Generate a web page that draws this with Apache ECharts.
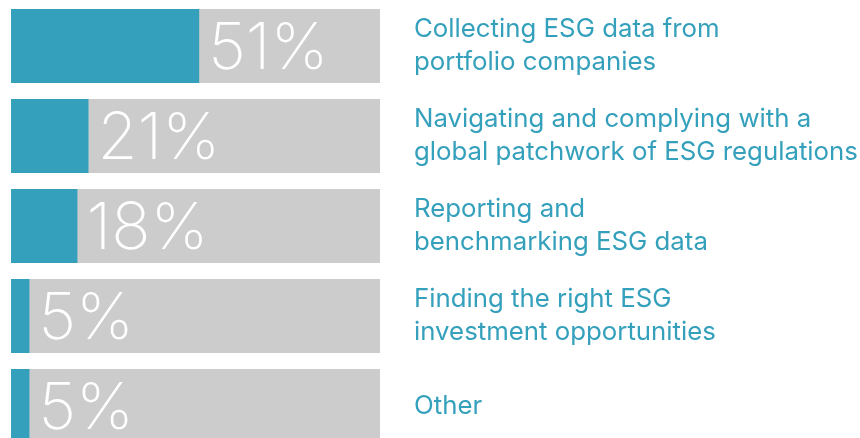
<!DOCTYPE html>
<html>
<head>
<meta charset="utf-8">
<script src="https://cdn.jsdelivr.net/npm/echarts@6/dist/echarts.min.js"></script>
<style>
  html, body { margin: 0; padding: 0; background: #fff; }
  #main { width: 860px; height: 438px; }
</style>
</head>
<body>
<div id="main"></div>
<script>
// ESG challenges - share of respondents
var categories = [
  'Collecting ESG data from\nportfolio companies',
  'Navigating and complying with a\nglobal patchwork of ESG regulations',
  'Reporting and\nbenchmarking ESG data',
  'Finding the right ESG\ninvestment opportunities',
  'Other'
]
var shares = [51, 21, 18, 5, 5]
var maxShare = 100

var teal = '#34a0bc'
var myChart = echarts.init(document.getElementById('main'))
myChart.setOption({
  animation: false,
  grid: {
    left: 11,
    width: 369,
    top: 1,
    height: 450,
    outerBoundsMode: 'none',
    containLabel: false
  },
  xAxis: {
    type: 'value',
    min: 0,
    max: maxShare,
    show: false
  },
  yAxis: {
    type: 'category',
    data: categories,
    inverse: true,
    position: 'right',
    axisLine: { show: false },
    axisTick: { show: false },
    axisLabel: {
      margin: 34,
      align: 'left',
      color: teal,
      fontFamily: 'Inter, Roboto, sans-serif',
      fontSize: 25.8,
      lineHeight: 33
    }
  },
  series: [
    {
      type: 'bar',
      data: shares,
      barWidth: 74,
      itemStyle: { color: teal },
      showBackground: true,
      backgroundStyle: { color: '#cccccc' },
      label: {
        show: true,
        position: 'right',
        distance: 9,
        offset: [0, 3],
        formatter: '{c}%',
        color: '#ffffff',
        fontFamily: 'Inter, Roboto, sans-serif',
        fontWeight: 250,
        fontSize: 65
      }
    }
  ]
})
window.addEventListener('resize', function() {
  myChart.resize()
})
</script>
</body>
</html>
